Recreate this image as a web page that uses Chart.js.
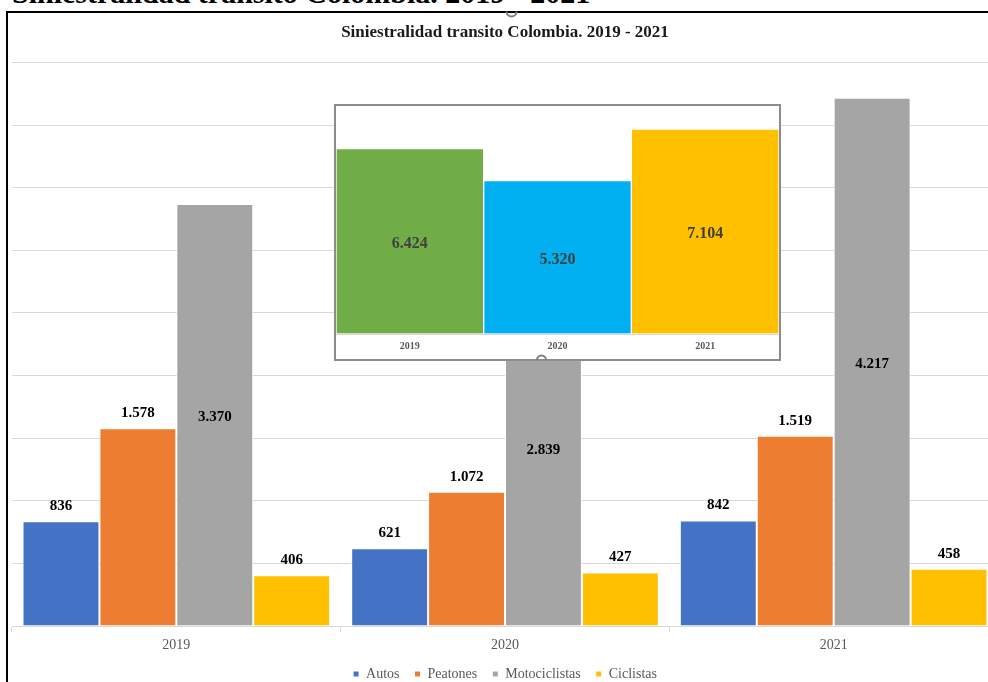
<!DOCTYPE html>
<html>
<head>
<meta charset="utf-8">
<script src="https://cdn.jsdelivr.net/npm/chart.js@4.4.0/dist/chart.umd.min.js"></script>
<style>
html, body { margin: 0; padding: 0; overflow: hidden; background: #fff; width: 988px; height: 682px; }
#docTitle { position: absolute; left: 12px; top: -22px; font: bold 30px 'Liberation Serif', serif; line-height: 30px; white-space: nowrap; color: #000; }
#frame { position: absolute; left: 6px; top: 11px; width: 1100px; height: 800px; border-left: 2px solid #000; border-top: 2px solid #000; }
#mainBox { position: absolute; left: 0; top: 0; width: 1010px; height: 691px; }
#insetBox { position: absolute; left: 334px; top: 104px; width: 447px; height: 257px; background: #fff; }
</style>
</head>
<body>
<div id="docTitle">Siniestralidad transito Colombia. 2019 - 2021</div>
<div id="frame"></div>
<div id="mainBox"><canvas id="mainChart"></canvas></div>
<div id="insetBox"><canvas id="insetChart"></canvas></div>
<script>
var years = ['2019', '2020', '2021'];
var autos = [836, 621, 842];
var peatones = [1578, 1072, 1519];
var motociclistas = [3370, 2839, 4217];
var ciclistas = [406, 427, 458];
var totales = [6424, 5320, 7104];

var serif = "'Liberation Serif', 'Times New Roman', serif";
var gridGray = '#d9d9d9';
var textGray = '#595959';

// 1578 -> 1.578
function fmt(v) {
    return String(v).replace(/\B(?=(\d{3})+(?!\d))/g, '.');
}

var mainLabels = {
    id: 'mainLabels',
    afterDatasetsDraw: function(chart) {
        var ctx = chart.ctx;
        ctx.save();
        ctx.font = 'bold 15px ' + serif;
        ctx.fillStyle = '#000';
        ctx.textAlign = 'center';
        ctx.textBaseline = 'middle';
        chart.data.datasets.forEach(function(ds, i) {
            chart.getDatasetMeta(i).data.forEach(function(bar, j) {
                var y = ds.labelInside ? (bar.y + bar.base) / 2 + 2 : bar.y - 15;
                ctx.fillText(fmt(ds.data[j]), bar.x, y);
            });
        });
        // selection handle on the frame
        ctx.strokeStyle = '#7f7f7f';
        ctx.lineWidth = 2;
        ctx.beginPath();
        ctx.arc(511.5, 11.5, 5, 0, Math.PI);
        ctx.stroke();
        ctx.restore();
    }
};

var insetDecor = {
    id: 'insetDecor',
    afterDraw: function(chart) {
        var ctx = chart.ctx;
        ctx.save();
        ctx.font = 'bold 16px ' + serif;
        ctx.fillStyle = '#404040';
        ctx.textAlign = 'center';
        ctx.textBaseline = 'middle';
        var ds = chart.data.datasets[0];
        chart.getDatasetMeta(0).data.forEach(function(bar, j) {
            ctx.fillText(fmt(ds.data[j]), bar.x, (bar.y + bar.base) / 2 + 3);
        });
        ctx.strokeStyle = '#8c8c8c';
        ctx.lineWidth = 2;
        ctx.strokeRect(1, 1, chart.width - 2, chart.height - 2);
        ctx.beginPath();
        ctx.arc(207.5, 256, 4.5, Math.PI, 2 * Math.PI);
        ctx.strokeStyle = '#7f7f7f';
        ctx.stroke();
        ctx.restore();
    }
};

var mainCtx = document.getElementById('mainChart').getContext('2d');
var mainChart = new Chart(mainCtx, {
    type: 'bar',
    data: {
        labels: years,
        datasets: [
            { label: 'Autos', data: autos, backgroundColor: '#4472c4' },
            { label: 'Peatones', data: peatones, backgroundColor: '#ed7d31' },
            { label: 'Motociclistas', data: motociclistas, backgroundColor: '#a5a5a5', labelInside: true },
            { label: 'Ciclistas', data: ciclistas, backgroundColor: '#ffc000' }
        ]
    },
    options: {
        responsive: true,
        maintainAspectRatio: false,
        animation: false,
        layout: { padding: { left: 12, right: 12, top: 0, bottom: 0 } },
        datasets: {
            bar: {
                borderColor: '#ffffff',
                borderWidth: 1,
                borderSkipped: 'bottom',
                barPercentage: 1,
                categoryPercentage: 0.936
            }
        },
        plugins: {
            title: {
                display: true,
                text: 'Siniestralidad transito Colombia. 2019 - 2021',
                font: { size: 17, family: serif, weight: 'bold' },
                color: '#1a1a1a',
                padding: { top: 22, bottom: 20 }
            },
            legend: {
                position: 'bottom',
                labels: {
                    boxWidth: 6,
                    boxHeight: 6,
                    padding: 15,
                    color: textGray,
                    font: { size: 14, family: serif }
                }
            },
            tooltip: { enabled: false }
        },
        scales: {
            x: {
                grid: { display: true, drawOnChartArea: false, drawTicks: true, tickLength: 6, color: gridGray },
                border: { display: true, color: gridGray },
                ticks: { color: textGray, padding: 5, font: { size: 14, family: serif } },
                afterFit: function(scale) { scale.height = 26; }
            },
            y: {
                min: 0,
                max: 4500,
                ticks: { display: false, stepSize: 500 },
                grid: { color: gridGray, drawTicks: false },
                border: { display: false }
            }
        }
    },
    plugins: [mainLabels]
});

var insetCtx = document.getElementById('insetChart').getContext('2d');
var insetChart = new Chart(insetCtx, {
    type: 'bar',
    data: {
        labels: years,
        datasets: [{
            label: 'Total',
            data: totales,
            backgroundColor: ['#70ad47', '#00b0f0', '#ffc000'],
            borderColor: '#ffffff',
            borderWidth: 1,
            borderSkipped: 'bottom',
            barPercentage: 1,
            categoryPercentage: 1
        }]
    },
    options: {
        responsive: true,
        maintainAspectRatio: false,
        animation: false,
        layout: { padding: { left: 2, right: 2, top: 2, bottom: 3 } },
        plugins: {
            legend: { display: false },
            title: { display: false },
            tooltip: { enabled: false }
        },
        scales: {
            x: {
                grid: { display: false, drawTicks: false },
                border: { display: true, color: gridGray },
                ticks: { color: textGray, padding: 6, font: { size: 10, family: serif, weight: 'bold' } }
            },
            y: {
                min: 0,
                max: 7900,
                ticks: { display: false, stepSize: 1000 },
                grid: {
                    drawTicks: false,
                    color: function(c) { return c.tick && c.tick.value % 1000 === 0 ? gridGray : 'rgba(0,0,0,0)'; }
                },
                border: { display: false }
            }
        }
    },
    plugins: [insetDecor]
});
</script>
</body>
</html>
